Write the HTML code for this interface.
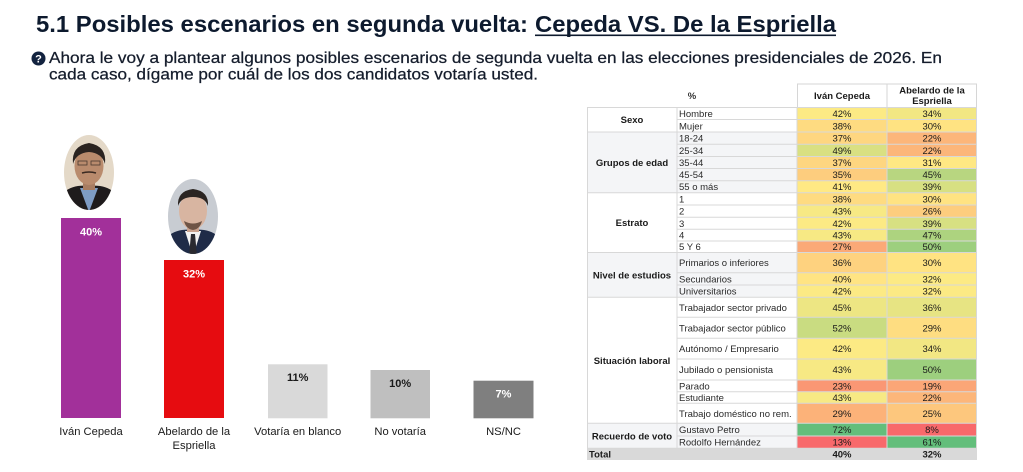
<!DOCTYPE html>
<html>
<head>
<meta charset="utf-8">
<style>
html,body{margin:0;padding:0;background:#fff;}
body{width:1023px;height:472px;overflow:hidden;}
svg{display:block;}
.t{font-family:"Liberation Sans",Arial,sans-serif;}
</style>
</head>
<body>
<svg width="1023" height="472" viewBox="0 0 1023 472" xmlns="http://www.w3.org/2000/svg" class="t">
<rect width="1023" height="472" fill="#fff"/>

<!-- Title -->
<text x="36" y="32" font-size="23" font-weight="bold" fill="#0d1a2e" textLength="492" lengthAdjust="spacingAndGlyphs">5.1 Posibles escenarios en segunda vuelta:</text>
<text x="535" y="32" font-size="23" font-weight="bold" fill="#0d1a2e" textLength="301" lengthAdjust="spacingAndGlyphs">Cepeda VS. De la Espriella</text>
<rect x="535" y="34.5" width="301" height="1.6" fill="#0d1a2e"/>

<!-- Subtitle -->
<circle cx="38.5" cy="58.5" r="7" fill="#13233f"/>
<text x="38.5" y="62.5" font-size="11" font-weight="bold" fill="#fff" text-anchor="middle">?</text>
<text x="49" y="63" font-size="16" fill="#151d2c" stroke="#151d2c" stroke-width="0.25" textLength="893" lengthAdjust="spacingAndGlyphs">Ahora le voy a plantear algunos posibles escenarios de segunda vuelta en las elecciones presidenciales de 2026. En</text>
<text x="49" y="79.5" font-size="16" fill="#151d2c" stroke="#151d2c" stroke-width="0.25" textLength="489" lengthAdjust="spacingAndGlyphs">cada caso, dígame por cuál de los dos candidatos votaría usted.</text>

<!-- Photos -->
<defs>
<clipPath id="c1"><ellipse cx="89" cy="172.5" rx="25" ry="37.5"/></clipPath>
<clipPath id="c2"><ellipse cx="193" cy="216.5" rx="25" ry="37.5"/></clipPath>
</defs>
<g clip-path="url(#c1)">
<rect x="60" y="130" width="60" height="85" fill="#e4d9c8"/>
<path d="M58 212 L62 194 Q72 184 89 186 Q106 184 116 194 L120 212 Z" fill="#1e1b1c"/>
<path d="M80 188 L89 212 L98 188 Z" fill="#7e9cc4"/>
<rect x="83" y="176" width="12" height="14" fill="#a87d62"/>
<ellipse cx="89" cy="166" rx="14.5" ry="19" fill="#b98b6d"/>
<path d="M73 164 Q71 146 89 143 Q107 146 105 164 Q102 153 89 152 Q76 153 73 164 Z" fill="#2a2320"/>
<rect x="78" y="161" width="9" height="4" fill="none" stroke="#4a3a30" stroke-width="0.8"/>
<rect x="91" y="161" width="9" height="4" fill="none" stroke="#4a3a30" stroke-width="0.8"/>
<path d="M82 173 Q89 171 96 173" stroke="#3a2a22" stroke-width="1.5" fill="none"/>
</g>
<g clip-path="url(#c2)">
<rect x="165" y="175" width="60" height="85" fill="#c8ccd2"/>
<path d="M162 256 L166 238 Q176 228 193 230 Q210 228 220 238 L224 256 Z" fill="#1f2b47"/>
<path d="M185 231 L193 256 L201 231 Z" fill="#f2f2f2"/>
<path d="M191 234 L195 234 L197 256 L189 256 Z" fill="#2a2a30"/>
<rect x="187" y="220" width="12" height="12" fill="#c9a28e"/>
<ellipse cx="193" cy="211" rx="14" ry="18.5" fill="#d8b5a1"/>
<path d="M178 206 Q177 191 193 189 Q209 191 208 206 Q205 197 193 197 Q181 197 178 206 Z" fill="#2b2522"/>
<path d="M184 221 Q193 226 202 221 Q200 229 193 230 Q186 229 184 221 Z" fill="#6e5446"/>
</g>

<!-- Bars -->
<rect x="61" y="218" width="60" height="200" fill="#a2309a"/>
<text x="91" y="235.5" font-size="11" font-weight="bold" fill="#fff" text-anchor="middle">40%</text>
<rect x="164" y="260" width="60" height="158" fill="#e60c10"/>
<text x="194" y="277.5" font-size="11" font-weight="bold" fill="#fff" text-anchor="middle">32%</text>
<rect x="268" y="364.3" width="59.5" height="54" fill="#d9d9d9"/>
<text x="297.7" y="381" font-size="11" font-weight="bold" fill="#1a1a1a" text-anchor="middle">11%</text>
<rect x="370.5" y="370" width="59.5" height="48.3" fill="#bfbfbf"/>
<text x="400.2" y="387" font-size="11" font-weight="bold" fill="#1a1a1a" text-anchor="middle">10%</text>
<rect x="473.5" y="380.7" width="60" height="37.6" fill="#7f7f7f"/>
<text x="503.5" y="397.5" font-size="11" font-weight="bold" fill="#fff" text-anchor="middle">7%</text>

<g font-size="11.2" fill="#1a1a1a" text-anchor="middle">
<text x="91" y="435">Iván Cepeda</text>
<text x="194" y="435">Abelardo de la</text>
<text x="194" y="449">Espriella</text>
<text x="297.7" y="435">Votaría en blanco</text>
<text x="400.2" y="435">No votaría</text>
<text x="503.5" y="435">NS/NC</text>
</g>

<!-- Table header -->
<text x="692" y="99" font-size="9.5" font-weight="bold" fill="#333" text-anchor="middle">%</text>
<rect x="797.5" y="84" width="89.5" height="23.5" fill="#fff" stroke="#d6d6d6" stroke-width="1"/>
<rect x="887" y="84" width="89.5" height="23.5" fill="#fff" stroke="#d6d6d6" stroke-width="1"/>
<text x="842" y="99" font-size="9.5" font-weight="bold" fill="#1a1a1a" text-anchor="middle">Iván Cepeda</text>
<text x="932" y="93.5" font-size="9.5" font-weight="bold" fill="#1a1a1a" text-anchor="middle">Abelardo de la</text>
<text x="932" y="104" font-size="9.5" font-weight="bold" fill="#1a1a1a" text-anchor="middle">Espriella</text>

<!-- Group backgrounds -->
<rect x="587" y="132" width="210" height="60.7" fill="#f4f5f7"/>
<rect x="587" y="252.5" width="210" height="44.8" fill="#f4f5f7"/>
<rect x="587" y="423.3" width="210" height="25" fill="#f4f5f7"/>

<!-- Heat cells -->
<g>
<rect x="797" y="107.5" width="90" height="12" fill="#fcea84"/><rect x="887" y="107.5" width="90" height="12" fill="#f2e783"/>
<rect x="797" y="119.5" width="90" height="12.5" fill="#fedb81"/><rect x="887" y="119.5" width="90" height="12.5" fill="#ffe382"/>
<rect x="797" y="132" width="90" height="12.3" fill="#fed680"/><rect x="887" y="132" width="90" height="12.3" fill="#fcb67a"/>
<rect x="797" y="144.3" width="90" height="12.2" fill="#d9e082"/><rect x="887" y="144.3" width="90" height="12.2" fill="#fcb67a"/>
<rect x="797" y="156.5" width="90" height="12" fill="#fed680"/><rect x="887" y="156.5" width="90" height="12" fill="#ffe883"/>
<rect x="797" y="168.5" width="90" height="12.2" fill="#fdcd7e"/><rect x="887" y="168.5" width="90" height="12.2" fill="#b8d680"/>
<rect x="797" y="180.7" width="90" height="12" fill="#ffe984"/><rect x="887" y="180.7" width="90" height="12" fill="#d7e082"/>
<rect x="797" y="192.7" width="90" height="12.3" fill="#fedb81"/><rect x="887" y="192.7" width="90" height="12.3" fill="#ffe382"/>
<rect x="797" y="205" width="90" height="12.3" fill="#f7e984"/><rect x="887" y="205" width="90" height="12.3" fill="#fdcd7e"/>
<rect x="797" y="217.3" width="90" height="12" fill="#fcea84"/><rect x="887" y="217.3" width="90" height="12" fill="#d7e082"/>
<rect x="797" y="229.3" width="90" height="11.7" fill="#f7e984"/><rect x="887" y="229.3" width="90" height="11.7" fill="#add37f"/>
<rect x="797" y="241" width="90" height="11.5" fill="#fba977"/><rect x="887" y="241" width="90" height="11.5" fill="#9dcf7e"/>
<rect x="797" y="252.5" width="90" height="20.2" fill="#fed27f"/><rect x="887" y="252.5" width="90" height="20.2" fill="#ffe382"/>
<rect x="797" y="272.7" width="90" height="12.3" fill="#ffe483"/><rect x="887" y="272.7" width="90" height="12.3" fill="#fcea84"/>
<rect x="797" y="285" width="90" height="12.3" fill="#fcea84"/><rect x="887" y="285" width="90" height="12.3" fill="#fcea84"/>
<rect x="797" y="297.3" width="90" height="20" fill="#ede683"/><rect x="887" y="297.3" width="90" height="20" fill="#e7e483"/>
<rect x="797" y="317.3" width="90" height="21" fill="#c9dc81"/><rect x="887" y="317.3" width="90" height="21" fill="#fedd81"/>
<rect x="797" y="338.3" width="90" height="20.7" fill="#fcea84"/><rect x="887" y="338.3" width="90" height="20.7" fill="#f2e783"/>
<rect x="797" y="359" width="90" height="21" fill="#f7e984"/><rect x="887" y="359" width="90" height="21" fill="#9dcf7e"/>
<rect x="797" y="380" width="90" height="11.7" fill="#fa9774"/><rect x="887" y="380" width="90" height="11.7" fill="#fba677"/>
<rect x="797" y="391.7" width="90" height="11.6" fill="#f7e984"/><rect x="887" y="391.7" width="90" height="11.6" fill="#fcb67a"/>
<rect x="797" y="403.3" width="90" height="20" fill="#fcb279"/><rect x="887" y="403.3" width="90" height="20" fill="#fdc77d"/>
<rect x="797" y="423.3" width="90" height="12.7" fill="#63be7b"/><rect x="887" y="423.3" width="90" height="12.7" fill="#f8696b"/>
<rect x="797" y="436" width="90" height="12.3" fill="#f8696b"/><rect x="887" y="436" width="90" height="12.3" fill="#63be7b"/>
</g>

<!-- Total row -->
<rect x="587" y="448.3" width="390" height="11.7" fill="#d9d9d9"/>

<!-- Grid lines -->
<g stroke="#d8d8d8" stroke-width="1" fill="none">
<line x1="587" y1="107.5" x2="977" y2="107.5"/>
<line x1="677" y1="119.5" x2="977" y2="119.5"/>
<line x1="587" y1="132" x2="977" y2="132"/>
<line x1="677" y1="144.3" x2="977" y2="144.3"/>
<line x1="677" y1="156.5" x2="977" y2="156.5"/>
<line x1="677" y1="168.5" x2="977" y2="168.5"/>
<line x1="677" y1="180.7" x2="977" y2="180.7"/>
<line x1="587" y1="192.7" x2="977" y2="192.7"/>
<line x1="677" y1="205" x2="977" y2="205"/>
<line x1="677" y1="217.3" x2="977" y2="217.3"/>
<line x1="677" y1="229.3" x2="977" y2="229.3"/>
<line x1="677" y1="241" x2="977" y2="241"/>
<line x1="587" y1="252.5" x2="977" y2="252.5"/>
<line x1="677" y1="272.7" x2="977" y2="272.7"/>
<line x1="677" y1="285" x2="977" y2="285"/>
<line x1="587" y1="297.3" x2="977" y2="297.3"/>
<line x1="677" y1="317.3" x2="977" y2="317.3"/>
<line x1="677" y1="338.3" x2="977" y2="338.3"/>
<line x1="677" y1="359" x2="977" y2="359"/>
<line x1="677" y1="380" x2="977" y2="380"/>
<line x1="677" y1="391.7" x2="977" y2="391.7"/>
<line x1="677" y1="403.3" x2="977" y2="403.3"/>
<line x1="587" y1="423.3" x2="977" y2="423.3"/>
<line x1="677" y1="436" x2="977" y2="436"/>
<line x1="587" y1="448.3" x2="977" y2="448.3"/>
<line x1="587.5" y1="107.5" x2="587.5" y2="448.3"/>
<line x1="677" y1="107.5" x2="677" y2="448.3"/>
<line x1="797" y1="107.5" x2="797" y2="448.3"/>
<line x1="887" y1="107.5" x2="887" y2="448.3"/>
<line x1="976.5" y1="107.5" x2="976.5" y2="448.3"/>
</g>

<!-- Category labels -->
<g font-size="9.5" font-weight="bold" fill="#1a1a1a" text-anchor="middle">
<text x="632" y="123">Sexo</text>
<text x="632" y="165.8">Grupos de edad</text>
<text x="632" y="226.1">Estrato</text>
<text x="632" y="278.4">Nivel de estudios</text>
<text x="632" y="363.8">Situación laboral</text>
<text x="632" y="439.3">Recuerdo de voto</text>
</g>

<!-- Sub labels -->
<g font-size="9.5" fill="#2a2a2a">
<text x="679" y="117">Hombre</text>
<text x="679" y="129.3">Mujer</text>
<text x="679" y="141.7">18-24</text>
<text x="679" y="153.9">25-34</text>
<text x="679" y="166">35-44</text>
<text x="679" y="178.1">45-54</text>
<text x="679" y="190.2">55 o más</text>
<text x="679" y="202.3">1</text>
<text x="679" y="214.6">2</text>
<text x="679" y="226.8">3</text>
<text x="679" y="238.6">4</text>
<text x="679" y="250.2">5 Y 6</text>
<text x="679" y="266.1">Primarios o inferiores</text>
<text x="679" y="282.3">Secundarios</text>
<text x="679" y="294.6">Universitarios</text>
<text x="679" y="310.8">Trabajador sector privado</text>
<text x="679" y="331.3">Trabajador sector público</text>
<text x="679" y="352.1">Autónomo / Empresario</text>
<text x="679" y="373">Jubilado o pensionista</text>
<text x="679" y="389.3">Parado</text>
<text x="679" y="401">Estudiante</text>
<text x="679" y="416.8">Trabajo doméstico no rem.</text>
<text x="679" y="433.1">Gustavo Petro</text>
<text x="679" y="445.6">Rodolfo Hernández</text>
</g>

<!-- Values -->
<g font-size="9.5" fill="#1a1a1a" text-anchor="middle">
<text x="842" y="117">42%</text><text x="932" y="117">34%</text>
<text x="842" y="129.3">38%</text><text x="932" y="129.3">30%</text>
<text x="842" y="141.7">37%</text><text x="932" y="141.7">22%</text>
<text x="842" y="153.9">49%</text><text x="932" y="153.9">22%</text>
<text x="842" y="166">37%</text><text x="932" y="166">31%</text>
<text x="842" y="178.1">35%</text><text x="932" y="178.1">45%</text>
<text x="842" y="190.2">41%</text><text x="932" y="190.2">39%</text>
<text x="842" y="202.3">38%</text><text x="932" y="202.3">30%</text>
<text x="842" y="214.6">43%</text><text x="932" y="214.6">26%</text>
<text x="842" y="226.8">42%</text><text x="932" y="226.8">39%</text>
<text x="842" y="238.6">43%</text><text x="932" y="238.6">47%</text>
<text x="842" y="250.2">27%</text><text x="932" y="250.2">50%</text>
<text x="842" y="266.1">36%</text><text x="932" y="266.1">30%</text>
<text x="842" y="282.3">40%</text><text x="932" y="282.3">32%</text>
<text x="842" y="294.6">42%</text><text x="932" y="294.6">32%</text>
<text x="842" y="310.8">45%</text><text x="932" y="310.8">36%</text>
<text x="842" y="331.3">52%</text><text x="932" y="331.3">29%</text>
<text x="842" y="352.1">42%</text><text x="932" y="352.1">34%</text>
<text x="842" y="373">43%</text><text x="932" y="373">50%</text>
<text x="842" y="389.3">23%</text><text x="932" y="389.3">19%</text>
<text x="842" y="401">43%</text><text x="932" y="401">22%</text>
<text x="842" y="416.8">29%</text><text x="932" y="416.8">25%</text>
<text x="842" y="433.1">72%</text><text x="932" y="433.1">8%</text>
<text x="842" y="445.6">13%</text><text x="932" y="445.6">61%</text>
</g>

<!-- Total text -->
<text x="589" y="457.6" font-size="9.5" font-weight="bold" fill="#1a1a1a">Total</text>
<text x="842" y="457.6" font-size="9.5" font-weight="bold" fill="#1a1a1a" text-anchor="middle">40%</text>
<text x="932" y="457.6" font-size="9.5" font-weight="bold" fill="#1a1a1a" text-anchor="middle">32%</text>
</svg>
</body>
</html>
